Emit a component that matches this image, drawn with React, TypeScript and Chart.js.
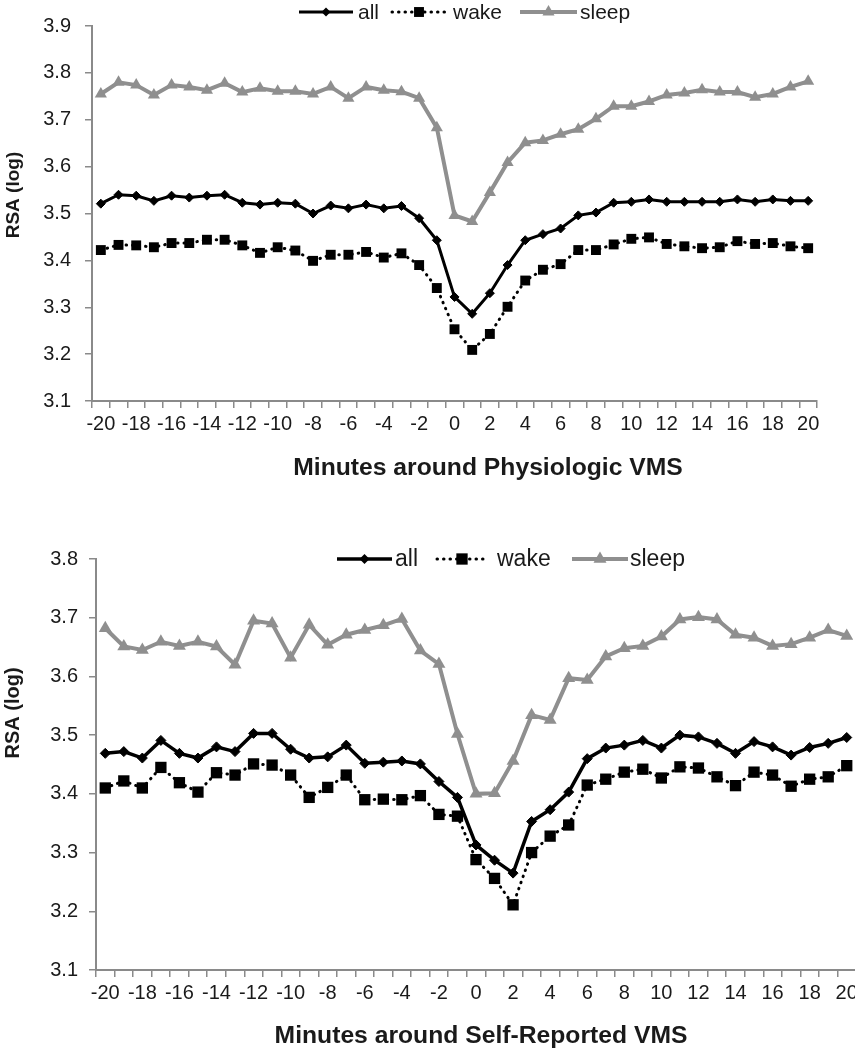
import React, { useEffect, useRef } from 'react';
import { Chart, registerables } from 'chart.js';

Chart.register(...registerables);

// ---------- data ----------
const minutes = [
  -20, -19, -18, -17, -16, -15, -14, -13, -12, -11, -10, -9, -8, -7, -6, -5, -4, -3, -2, -1,
  0, 1, 2, 3, 4, 5, 6, 7, 8, 9, 10, 11, 12, 13, 14, 15, 16, 17, 18, 19, 20,
];

const physAll = [
  3.521, 3.540, 3.538, 3.527, 3.538, 3.534, 3.538, 3.540, 3.523, 3.519, 3.523, 3.521, 3.500, 3.517,
  3.511, 3.519, 3.511, 3.516, 3.490, 3.443, 3.322, 3.286, 3.330, 3.390, 3.443, 3.456, 3.468, 3.496,
  3.502, 3.523, 3.525, 3.530, 3.525, 3.525, 3.525, 3.525, 3.530, 3.525, 3.530, 3.527, 3.527,
];
const physWake = [
  3.422, 3.433, 3.432, 3.428, 3.437, 3.437, 3.444, 3.444, 3.432, 3.416, 3.428, 3.421, 3.399, 3.412,
  3.412, 3.418, 3.406, 3.415, 3.390, 3.341, 3.253, 3.209, 3.243, 3.301, 3.357, 3.380, 3.392, 3.422,
  3.422, 3.434, 3.446, 3.449, 3.435, 3.430, 3.426, 3.428, 3.441, 3.435, 3.437, 3.430, 3.426,
];
const physSleep = [
  3.755, 3.780, 3.774, 3.753, 3.774, 3.770, 3.763, 3.778, 3.759, 3.767, 3.761, 3.761, 3.755, 3.770,
  3.746, 3.770, 3.763, 3.760, 3.746, 3.683, 3.496, 3.483, 3.545, 3.609, 3.651, 3.656, 3.669, 3.680,
  3.702, 3.729, 3.729, 3.739, 3.753, 3.757, 3.764, 3.759, 3.759, 3.748, 3.755, 3.770, 3.782,
];

const selfAll = [
  3.469, 3.472, 3.461, 3.491, 3.469, 3.461, 3.480, 3.472, 3.503, 3.503, 3.476, 3.461, 3.463, 3.483,
  3.452, 3.454, 3.456, 3.451, 3.421, 3.394, 3.313, 3.287, 3.265, 3.353, 3.373, 3.403, 3.460, 3.478,
  3.483, 3.491, 3.478, 3.500, 3.497, 3.486, 3.469, 3.489, 3.480, 3.466, 3.479, 3.486, 3.496,
];
const selfWake = [
  3.410, 3.422, 3.410, 3.445, 3.419, 3.403, 3.436, 3.432, 3.451, 3.449, 3.432, 3.394, 3.411, 3.432,
  3.390, 3.391, 3.390, 3.397, 3.365, 3.362, 3.288, 3.256, 3.211, 3.300, 3.328, 3.347, 3.415, 3.425,
  3.437, 3.442, 3.427, 3.446, 3.444, 3.429, 3.414, 3.437, 3.432, 3.413, 3.425, 3.429, 3.448,
];
const selfSleep = [
  3.682, 3.651, 3.645, 3.659, 3.652, 3.659, 3.651, 3.620, 3.695, 3.690, 3.632, 3.688, 3.654, 3.671,
  3.679, 3.687, 3.698, 3.644, 3.621, 3.502, 3.400, 3.401, 3.456, 3.534, 3.526, 3.597, 3.594, 3.634,
  3.648, 3.652, 3.668, 3.697, 3.701, 3.697, 3.671, 3.666, 3.652, 3.655, 3.666, 3.679, 3.669,
];

const seriesNames = ['all', 'wake', 'sleep'];
const yTitleText = 'RSA (log)';
const xTitlePhys = 'Minutes around Physiologic VMS';
const xTitleSelf = 'Minutes around Self-Reported VMS';

// ---------- styles ----------
const FONT = '"Liberation Sans", Arial, Helvetica, sans-serif';
const GRAY = '#8f8f8f';
const AXIS = '#8a8a8a';
const TEXT = '#1a1a1a';

type Kind = 'all' | 'wake' | 'sleep';

interface LegendItem { kind: Kind; x1: number; x2: number; textX: number; }

interface PanelCfg {
  width: number;
  height: number;
  top: number;
  all: number[];
  wake: number[];
  sleep: number[];
  yMax: number;
  area: { left: number; right: number; top: number; bottom: number };
  yLabelPad: number;
  tickFont: number;
  marker: { diamond: number; square: number; triangle: number };
  lineW: { all: number; wake: number; sleep: number };
  legendY: number;
  legendFont: number;
  legend: LegendItem[];
  yTitle: { x: number; y: number; size: number };
  xTitle: { text: string; x: number; y: number; size: number };
}

function drawMarker(ctx: CanvasRenderingContext2D, kind: Kind, x: number, y: number, r: number) {
  ctx.beginPath();
  if (kind === 'all') {
    ctx.moveTo(x, y - r);
    ctx.lineTo(x + r, y);
    ctx.lineTo(x, y + r);
    ctx.lineTo(x - r, y);
    ctx.closePath();
    ctx.fillStyle = '#000';
  } else if (kind === 'wake') {
    const s = Math.SQRT1_2 * r;
    ctx.rect(x - s, y - s, 2 * s, 2 * s);
    ctx.fillStyle = '#000';
  } else {
    let rad = 0;
    ctx.moveTo(x + Math.sin(rad) * r, y - Math.cos(rad) * r);
    rad += (2 * Math.PI) / 3;
    ctx.lineTo(x + Math.sin(rad) * r, y - Math.cos(rad) * r);
    rad += (2 * Math.PI) / 3;
    ctx.lineTo(x + Math.sin(rad) * r, y - Math.cos(rad) * r);
    ctx.closePath();
    ctx.fillStyle = GRAY;
  }
  ctx.fill();
}

function Panel({ cfg }: { cfg: PanelCfg }) {
  const ref = useRef<HTMLCanvasElement | null>(null);

  useEffect(() => {
    if (!ref.current) return;
    const c = cfg;

    const overlay = {
      id: 'overlay',
      afterDraw(chart: any) {
        const ctx: CanvasRenderingContext2D = chart.ctx;
        ctx.save();
        // legend
        c.legend.forEach((it, idx) => {
          ctx.save();
          ctx.beginPath();
          ctx.moveTo(it.x1, c.legendY);
          ctx.lineTo(it.x2, c.legendY);
          if (it.kind === 'wake') {
            ctx.setLineDash([0.5, 6]);
            ctx.lineCap = 'round';
            ctx.strokeStyle = '#000';
            ctx.lineWidth = c.lineW.wake;
          } else if (it.kind === 'all') {
            ctx.strokeStyle = '#000';
            ctx.lineWidth = c.lineW.all;
          } else {
            ctx.strokeStyle = GRAY;
            ctx.lineWidth = c.lineW.sleep;
          }
          ctx.stroke();
          ctx.restore();
          const r = it.kind === 'all' ? c.marker.diamond : it.kind === 'wake' ? c.marker.square : c.marker.triangle;
          drawMarker(ctx, it.kind, (it.x1 + it.x2) / 2, c.legendY, r);
          ctx.fillStyle = TEXT;
          ctx.font = `${c.legendFont}px ${FONT}`;
          ctx.textBaseline = 'middle';
          ctx.textAlign = 'left';
          ctx.fillText(seriesNames[idx], it.textX, c.legendY + 1);
        });
        // y title
        ctx.save();
        ctx.translate(c.yTitle.x, c.yTitle.y);
        ctx.rotate(-Math.PI / 2);
        ctx.font = `bold ${c.yTitle.size}px ${FONT}`;
        ctx.fillStyle = TEXT;
        ctx.textAlign = 'center';
        ctx.textBaseline = 'middle';
        ctx.fillText(yTitleText, 0, 0);
        ctx.restore();
        // x title
        ctx.font = `bold ${c.xTitle.size}px ${FONT}`;
        ctx.fillStyle = TEXT;
        ctx.textAlign = 'center';
        ctx.textBaseline = 'middle';
        ctx.fillText(c.xTitle.text, c.xTitle.x, c.xTitle.y);
        ctx.restore();
      },
    };

    const chart = new Chart(ref.current, {
      type: 'line',
      data: {
        labels: minutes.map(String),
        datasets: [
          {
            label: seriesNames[0],
            data: c.all,
            borderColor: '#000',
            backgroundColor: '#000',
            borderWidth: c.lineW.all,
            pointStyle: 'rectRot',
            pointRadius: c.marker.diamond,
            pointBackgroundColor: '#000',
            pointBorderColor: '#000',
            pointBorderWidth: 1,
            tension: 0,
          },
          {
            label: seriesNames[1],
            data: c.wake,
            borderColor: '#000',
            backgroundColor: '#000',
            borderWidth: c.lineW.wake,
            borderDash: [0.5, 6],
            borderCapStyle: 'round',
            pointStyle: 'rect',
            pointRadius: c.marker.square,
            pointBackgroundColor: '#000',
            pointBorderColor: '#000',
            pointBorderWidth: 0,
            tension: 0,
          },
          {
            label: seriesNames[2],
            data: c.sleep,
            borderColor: GRAY,
            backgroundColor: GRAY,
            borderWidth: c.lineW.sleep,
            pointStyle: 'triangle',
            pointRadius: c.marker.triangle,
            pointBackgroundColor: GRAY,
            pointBorderColor: GRAY,
            pointBorderWidth: 0,
            tension: 0,
          },
        ],
      },
      options: {
        animation: false,
        responsive: false,
        devicePixelRatio: 1,
        events: [],
        layout: {
          padding: { left: 0, top: c.area.top, right: c.width - c.area.right, bottom: 0 },
        },
        plugins: {
          legend: { display: false },
          tooltip: { enabled: false },
          title: { display: false },
        },
        scales: {
          x: {
            type: 'category',
            offset: true,
            grid: {
              offset: true,
              drawOnChartArea: false,
              drawTicks: true,
              tickLength: 7,
              color: AXIS,
              lineWidth: 1.5,
            },
            border: { display: true, color: AXIS, width: 2 },
            ticks: {
              autoSkip: false,
              maxRotation: 0,
              minRotation: 0,
              padding: 4,
              color: TEXT,
              font: { family: FONT, size: c.tickFont },
              callback: (_v: any, i: number) => (i % 2 === 0 ? String(minutes[i]) : ''),
            },
            afterFit: (s: any) => {
              s.height = c.height - c.area.bottom;
            },
          },
          y: {
            min: 3.1,
            max: c.yMax,
            grid: {
              drawOnChartArea: false,
              drawTicks: true,
              tickLength: 7,
              color: AXIS,
              lineWidth: 1.5,
            },
            border: { display: true, color: AXIS, width: 2 },
            ticks: {
              stepSize: 0.1,
              padding: c.yLabelPad,
              color: TEXT,
              font: { family: FONT, size: c.tickFont },
              callback: (v: any) => Number(v).toFixed(1),
            },
            afterFit: (s: any) => {
              s.width = c.area.left;
            },
          },
        },
      } as any,
      plugins: [overlay],
    });
    return () => chart.destroy();
  }, [cfg]);

  return (
    <canvas
      ref={ref}
      width={cfg.width}
      height={cfg.height}
      style={{ position: 'absolute', left: 0, top: cfg.top, width: cfg.width, height: cfg.height, display: 'block' }}
    />
  );
}

const physCfg: PanelCfg = {
  width: 855,
  height: 490,
  top: 0,
  all: physAll,
  wake: physWake,
  sleep: physSleep,
  yMax: 3.9,
  area: { left: 92, right: 817, top: 21, bottom: 401 },
  yLabelPad: 14,
  tickFont: 20,
  marker: { diamond: 4.5, square: 7, triangle: 7 },
  lineW: { all: 3, wake: 3, sleep: 4 },
  legendY: 12,
  legendFont: 21,
  legend: [
    { kind: 'all', x1: 299, x2: 353, textX: 358 },
    { kind: 'wake', x1: 392, x2: 446, textX: 453 },
    { kind: 'sleep', x1: 520, x2: 577, textX: 580 },
  ],
  yTitle: { x: 14, y: 195, size: 19 },
  xTitle: { text: xTitlePhys, x: 488, y: 468, size: 24.7 },
};

const selfCfg: PanelCfg = {
  width: 880,
  height: 560,
  top: 490,
  all: selfAll,
  wake: selfWake,
  sleep: selfSleep,
  yMax: 3.8,
  area: { left: 96, right: 856, top: 69, bottom: 480 },
  yLabelPad: 11,
  tickFont: 20,
  marker: { diamond: 5, square: 8, triangle: 7.5 },
  lineW: { all: 3.5, wake: 3, sleep: 4 },
  legendY: 69,
  legendFont: 23,
  legend: [
    { kind: 'all', x1: 337, x2: 392, textX: 395 },
    { kind: 'wake', x1: 437, x2: 487, textX: 497 },
    { kind: 'sleep', x1: 572, x2: 628, textX: 630 },
  ],
  yTitle: { x: 13, y: 223, size: 20 },
  xTitle: { text: xTitleSelf, x: 481, y: 546, size: 24.7 },
};

export default function App() {
  return (
    <div
      style={{
        position: 'absolute',
        left: 0,
        top: 0,
        width: 855,
        height: 1050,
        overflow: 'hidden',
        background: '#fff',
      }}
    >
      <Panel cfg={physCfg} />
      <Panel cfg={selfCfg} />
    </div>
  );
}
